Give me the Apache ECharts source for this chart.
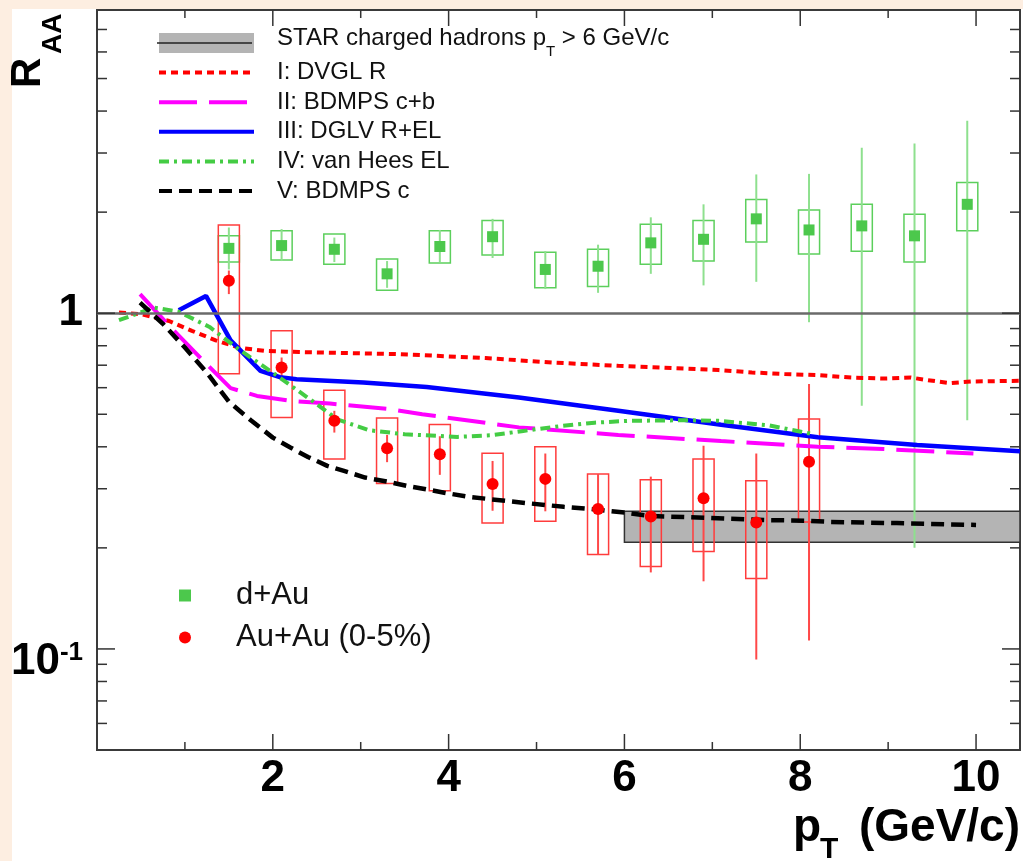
<!DOCTYPE html>
<html><head><meta charset="utf-8">
<script src="https://cdn.jsdelivr.net/npm/echarts@6.0.0/dist/echarts.min.js"></script>
<style>html,body{margin:0;padding:0;background:#fdeee1;}#chart{width:1023px;height:861px;}</style>
</head><body><div id="chart"></div>
<script>
// ---------------- data ----------------
const ptX = [1.5, 2.1, 2.7, 3.3, 3.9, 4.5, 5.1, 5.7, 6.3, 6.9, 7.5, 8.1, 8.7, 9.3, 9.9];
const dAuVal    = [1.56, 1.59, 1.55, 1.31, 1.58, 1.69, 1.35, 1.38, 1.62, 1.66, 1.91, 1.77, 1.82, 1.70, 2.11];
const dAuStatLo = [1.35, 1.43, 1.42, 1.19, 1.42, 1.46, 1.18, 1.15, 1.31, 1.21, 1.24, 0.94, 0.53, 0.20, 0.48];
const dAuStatHi = [1.80, 1.78, 1.68, 1.43, 1.77, 1.91, 1.53, 1.60, 1.93, 2.11, 2.59, 2.60, 3.11, 3.20, 3.74];
const dAuSysLo  = [1.42, 1.44, 1.40, 1.17, 1.41, 1.49, 1.19, 1.20, 1.40, 1.43, 1.63, 1.50, 1.53, 1.42, 1.76];
const dAuSysHi  = [1.70, 1.76, 1.72, 1.45, 1.76, 1.89, 1.52, 1.55, 1.84, 1.89, 2.18, 2.03, 2.11, 1.97, 2.45];

const auX      = [1.5, 2.1, 2.7, 3.3, 3.9, 4.5, 5.1, 5.7, 6.3, 6.9, 7.5, 8.1];
const auVal    = [1.25, 0.689, 0.478, 0.396, 0.380, 0.310, 0.321, 0.261, 0.248, 0.281, 0.238, 0.361];
const auStatLo = [1.14, 0.643, 0.441, 0.360, 0.330, 0.258, 0.257, 0.191, 0.169, 0.159, 0.093, 0.106];
const auStatHi = [1.34, 0.738, 0.512, 0.434, 0.430, 0.363, 0.382, 0.332, 0.326, 0.403, 0.382, 0.615];
const auSysLo  = [0.66, 0.489, 0.368, 0.311, 0.296, 0.237, 0.240, 0.191, 0.176, 0.195, 0.162, 0.239];
const auSysHi  = [1.83, 0.886, 0.590, 0.487, 0.466, 0.383, 0.400, 0.332, 0.319, 0.368, 0.317, 0.484];

const starX = [6, 10.5];
const starBand = [0.208, 0.257];

const curveDVGL = [[0.25,1.005],[0.5,0.993],[0.82,0.948],[1.08,0.886],[1.35,0.83],[1.61,0.79],[1.91,0.772],[2.3,0.766],[2.8,0.761],[3.44,0.755],[3.7,0.75],[4.42,0.735],[5.18,0.713],[5.93,0.697],[6.69,0.684],[7.07,0.677],[7.45,0.666],[7.82,0.659],[8.2,0.654],[8.58,0.643],[8.96,0.639],[9.26,0.643],[9.45,0.632],[9.71,0.619],[9.94,0.626],[10.5,0.629]];
const curveBDMPScb = [[0.49,1.139],[0.8,0.93],[1.18,0.735],[1.52,0.598],[1.82,0.567],[2.2,0.548],[2.65,0.538],[3.33,0.518],[3.7,0.5],[4.8,0.457],[5.93,0.434],[7.1,0.416],[8.2,0.4],[8.95,0.394],[9.97,0.382]];
const curveDGLV = [[0.93,1.02],[1.24,1.126],[1.52,0.83],[1.86,0.673],[2.08,0.645],[2.27,0.636],[3.03,0.622],[3.75,0.603],[4.8,0.561],[5.93,0.512],[7.1,0.465],[8.2,0.427],[9.33,0.405],[10.5,0.388]];
const curveVanHees = [[0.25,0.953],[0.65,1.039],[0.93,1.01],[1.28,0.91],[1.6,0.785],[2.05,0.651],[2.44,0.55],[2.74,0.482],[3.1,0.448],[3.5,0.436],[4.1,0.428],[4.49,0.433],[4.85,0.446],[5.3,0.462],[5.66,0.472],[6.05,0.478],[6.69,0.48],[7.07,0.478],[7.63,0.464],[8.15,0.436]];
const curveBDMPSc = [[0.49,1.075],[0.75,0.93],[1.0,0.79],[1.25,0.665],[1.5,0.545],[1.75,0.48],[2.0,0.426],[2.2,0.398],[2.4,0.373],[2.62,0.351],[2.81,0.339],[3.05,0.324],[3.3,0.315],[3.52,0.306],[3.71,0.300],[3.95,0.292],[4.22,0.284],[4.65,0.276],[4.88,0.272],[5.31,0.265],[5.62,0.261],[6.0,0.255],[6.27,0.249],[6.91,0.246],[7.59,0.242],[8.05,0.241],[8.35,0.239],[9.1,0.237],[10.0,0.234]];

const xTickLabels = [2, 4, 6, 8, 10];
const xMinorTicks = [1, 3, 5, 7, 9];
const yTickLabels = [0.1, 1];
const yMinorTicks = [0.06, 0.07, 0.08, 0.09, 0.2, 0.3, 0.4, 0.5, 0.6, 0.7, 0.8, 0.9, 2, 3, 4, 5, 6, 7];

const STAR_NAME = 'STAR charged hadrons pT > 6 GeV/c';
const NAME_I = 'I: DVGL R', NAME_II = 'II: BDMPS c+b', NAME_III = 'III: DGLV R+EL', NAME_IV = 'IV: van Hees EL', NAME_V = 'V: BDMPS c';
const NAME_DAU = 'd+Au', NAME_AUAU = 'Au+Au (0-5%)';

// ---------------- chart ----------------
const F = '"Liberation Sans", Arial, Helvetica, sans-serif';
const BOX_HALF = 0.12;

const tickList = [
  ...xTickLabels.map(v => ({axis: 'x', v, len: 16})),
  ...xMinorTicks.map(v => ({axis: 'x', v, len: 8})),
  ...yTickLabels.map(v => ({axis: 'y', v, len: 18})),
  ...yMinorTicks.map(v => ({axis: 'y', v, len: 10}))
];

function renderTick(params, api) {
  const t = tickList[params.dataIndex];
  const cs = params.coordSys;
  const style = {stroke: '#333', lineWidth: 1.5};
  if (t.axis === 'x') {
    const px = api.coord([t.v, 1])[0];
    return {type: 'group', children: [
      {type: 'line', shape: {x1: px, y1: cs.y + cs.height, x2: px, y2: cs.y + cs.height - t.len}, style},
      {type: 'line', shape: {x1: px, y1: cs.y, x2: px, y2: cs.y + t.len}, style}
    ]};
  }
  const py = api.coord([1, t.v])[1];
  return {type: 'group', children: [
    {type: 'line', shape: {x1: cs.x, y1: py, x2: cs.x + t.len, y2: py}, style},
    {type: 'line', shape: {x1: cs.x + cs.width, y1: py, x2: cs.x + cs.width - t.len, y2: py}, style}
  ]};
}

function errRender(boxColor, lineColor) {
  return function (params, api) {
    const x = api.value(0);
    const s0 = api.coord([x, api.value(2)]);
    const s1 = api.coord([x, api.value(3)]);
    const b0 = api.coord([x - BOX_HALF, api.value(5)]);
    const b1 = api.coord([x + BOX_HALF, api.value(4)]);
    return {type: 'group', children: [
      {type: 'rect', shape: {x: b0[0], y: b0[1], width: b1[0] - b0[0], height: b1[1] - b0[1]},
       style: {fill: 'none', stroke: boxColor, lineWidth: 1.5}},
      {type: 'line', shape: {x1: s0[0], y1: s0[1], x2: s1[0], y2: s1[1]},
       style: {stroke: lineColor, lineWidth: 2}}
    ]};
  };
}

function lineSeries(name, data, color, width, type) {
  return {
    name, type: 'line', data, symbol: 'none', showSymbol: false, clip: true, z: 4,
    lineStyle: {color, width, type}, itemStyle: {color},
    emphasis: {disabled: true}
  };
}
const noSym = name => ({name, itemStyle: {opacity: 0}});
const boldText = (text, x, y, size, align, rot) => ({
  type: 'text', z: 100, silent: true, x, y, rotation: rot || 0,
  style: {text, align, verticalAlign: 'middle', textAlign: align, textVerticalAlign: 'middle',
          font: 'bold ' + size + 'px ' + F, fill: '#000'}
});

const chart = echarts.init(document.getElementById('chart'));
const option = {
  animation: false,
  backgroundColor: '#fdeee1',
  textStyle: {fontFamily: F},
  grid: {left: 97, top: 10, right: 1.5, bottom: 111, show: true, borderColor: '#3a3a3a', borderWidth: 2, backgroundColor: 'transparent'},
  xAxis: {
    type: 'value', min: 0, max: 10.5, interval: 2,
    axisLine: {show: false}, axisTick: {show: false}, splitLine: {show: false},
    axisLabel: {margin: 7, fontSize: 44, fontWeight: 'bold', fontFamily: F, color: '#000',
      formatter: v => xTickLabels.some(t => Math.abs(t - v) < 1e-9) ? String(v) : ''}
  },
  yAxis: {
    type: 'log', logBase: 10, min: 0.05, max: 8,
    axisLine: {show: false}, axisTick: {show: false}, splitLine: {show: false},
    axisLabel: {
      margin: 14,
      formatter: v => {
        const e = Math.log10(v);
        if (Math.abs(e - Math.log10(yTickLabels[1])) < 1e-6) return '{b|1}';
        if (Math.abs(e - Math.log10(yTickLabels[0])) < 1e-6) return '{g| }\n{b|10}{s|-1}';
        return '';
      },
      rich: {
        b: {fontSize: 44, lineHeight: 44, fontWeight: 'bold', fontFamily: F, color: '#000'},
        s: {fontSize: 26, lineHeight: 26, fontWeight: 'bold', fontFamily: F, color: '#000', verticalAlign: 'top'},
        g: {fontSize: 10, lineHeight: 26}
      }
    }
  },
  legend: [
    {
      orient: 'vertical', left: 157, top: 26.5, padding: 0, itemGap: -3.4, itemWidth: 95, itemHeight: 20,
      selectedMode: false,
      lineStyle: {width: 4},
      data: [{name: STAR_NAME, icon: 'rect', itemStyle: {color: '#b4b4b4'}},
             noSym(NAME_I), noSym(NAME_II), noSym(NAME_III), noSym(NAME_IV), noSym(NAME_V)],
      formatter: n => n === STAR_NAME ? '{m|STAR charged hadrons p}{sub|T}{m| > 6 GeV/c}' : n,
      textStyle: {fontSize: 24, lineHeight: 33, fontFamily: F, color: '#111', padding: [0, 0, 0, 18],
        rich: {
          m: {fontSize: 24, lineHeight: 33, fontFamily: F, color: '#111', verticalAlign: 'top', padding: [0, 0, 0, 0]},
          sub: {fontSize: 15, lineHeight: 4, verticalAlign: 'bottom', fontFamily: F, color: '#111'}
        }}
    },
    {
      orient: 'vertical', left: 179, top: 580, padding: 0, itemGap: 11, itemWidth: 12, itemHeight: 12,
      selectedMode: false,
      data: [NAME_DAU, NAME_AUAU],
      textStyle: {fontSize: 31, lineHeight: 30, fontFamily: F, color: '#111', padding: [0, 0, 0, 40]}
    }
  ],
  graphic: [
    {type: 'rect', z: -100, silent: true, shape: {x: 12, y: 9, width: 1011, height: 852}, style: {fill: '#ffffff'}},
    {type: 'line', z: 100, silent: true, shape: {x1: 157, y1: 43, x2: 252, y2: 43}, style: {stroke: '#222', lineWidth: 1.5}},
    // y-axis title R_AA (rotated)
    boldText('R', 28.5, 88, 42, 'left', Math.PI / 2),
    boldText('AA', 53, 54, 28, 'left', Math.PI / 2),
    // x-axis title p_T (GeV/c)
    boldText('(GeV/c)', 1020, 828, 46, 'right'),
    boldText('p', 821, 828, 46, 'right'),
    boldText('T', 820, 850, 30, 'left')
  ],
  series: [
    {
      name: STAR_NAME, type: 'custom', z: 1, clip: true,
      data: [[starX[0], starBand[0], starX[1], starBand[1]]],
      encode: {x: [0, 2], y: [1, 3]},
      itemStyle: {color: '#b4b4b4'},
      renderItem: (params, api) => {
        const p0 = api.coord([api.value(0), api.value(3)]);
        const p1 = api.coord([api.value(2), api.value(1)]);
        return {type: 'rect', shape: {x: p0[0], y: p0[1], width: p1[0] - p0[0], height: p1[1] - p0[1]},
          style: {fill: '#b4b4b4', stroke: '#333', lineWidth: 1.5}};
      },
      markLine: {silent: true, symbol: ['none', 'none'], label: {show: false},
        lineStyle: {color: '#6a6a6a', width: 2.5, type: 'solid'}, data: [{yAxis: 1}]}
    },
    {
      name: 'dAuErrors', type: 'custom', z: 2,
      data: ptX.map((x, i) => [x, dAuVal[i], dAuStatLo[i], dAuStatHi[i], dAuSysLo[i], dAuSysHi[i]]),
      encode: {x: 0, y: 1},
      renderItem: errRender('#5ccf5c', '#8ee08e')
    },
    {
      name: 'AuAuErrors', type: 'custom', z: 2,
      data: auX.map((x, i) => [x, auVal[i], auStatLo[i], auStatHi[i], auSysLo[i], auSysHi[i]]),
      encode: {x: 0, y: 1},
      renderItem: errRender('#ff3c3c', '#ff4848')
    },
    lineSeries(NAME_I, curveDVGL, '#ff0000', 4, [7, 5]),
    lineSeries(NAME_II, curveBDMPScb, '#ff00ff', 4, [38, 12]),
    lineSeries(NAME_III, curveDGLV, '#0000ff', 4.5, 'solid'),
    lineSeries(NAME_IV, curveVanHees, '#44cc44', 4, [10, 5, 3, 5]),
    lineSeries(NAME_V, curveBDMPSc, '#000000', 4.5, [13, 7]),
    {
      name: NAME_DAU, type: 'scatter', z: 6, symbol: 'rect', symbolSize: 11,
      data: ptX.map((x, i) => [x, dAuVal[i]]),
      itemStyle: {color: '#4cc84c', opacity: 1}, emphasis: {disabled: true}
    },
    {
      name: NAME_AUAU, type: 'scatter', z: 6, symbol: 'circle', symbolSize: 12,
      data: auX.map((x, i) => [x, auVal[i]]),
      itemStyle: {color: '#ff0000', opacity: 1}, emphasis: {disabled: true}
    },
    {
      name: 'frameTicks', type: 'custom', z: 7, silent: true,
      data: tickList.map(t => [t.axis === 'x' ? t.v : 1, t.axis === 'y' ? t.v : 1]),
      encode: {x: 0, y: 1},
      renderItem: renderTick
    }
  ]
};
chart.setOption(option);
</script>
</body></html>
